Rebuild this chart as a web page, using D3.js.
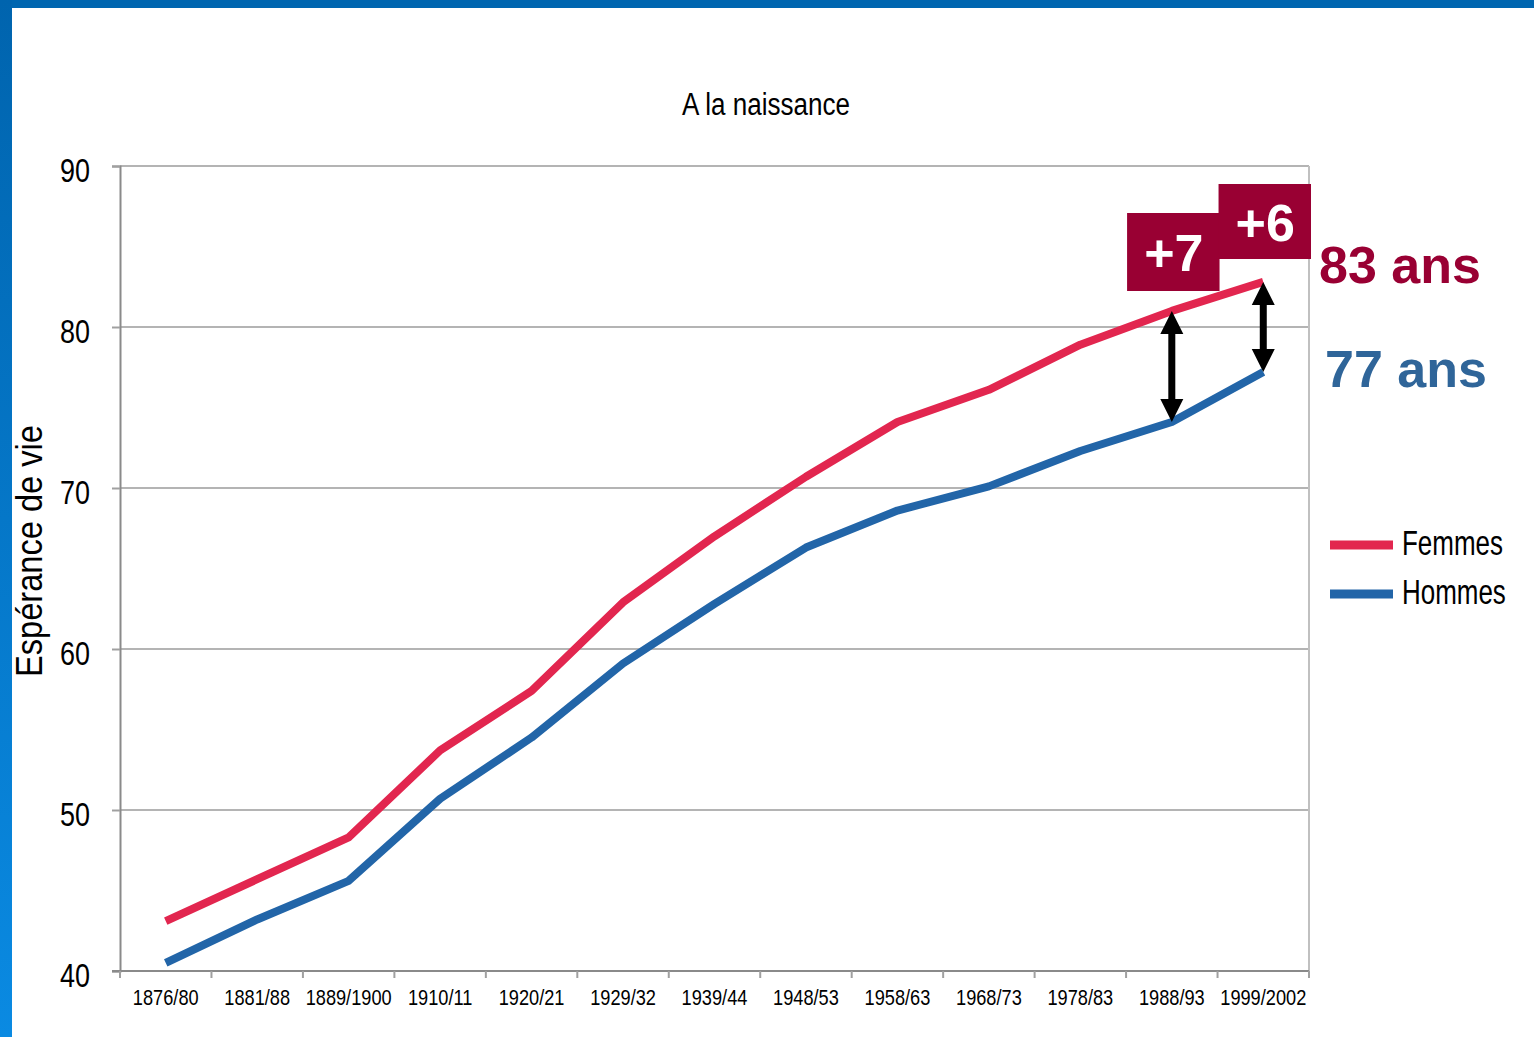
<!DOCTYPE html>
<html>
<head>
<meta charset="utf-8">
<script src="https://cdn.jsdelivr.net/npm/d3@7"></script>
<style>
  html, body { margin: 0; padding: 0; background: #fff; }
  svg { display: block; }
</style>
</head>
<body>
<script>
// ---- data ----
const categories = ["1876/80","1881/88","1889/1900","1910/11","1920/21","1929/32","1939/44","1948/53","1958/63","1968/73","1978/83","1988/93","1999/2002"];
const femmes = [43.1, 45.7, 48.3, 53.7, 57.4, 62.9, 67.0, 70.7, 74.1, 76.1, 78.9, 81.0, 82.8];
const hommes = [40.5, 43.2, 45.6, 50.7, 54.5, 59.1, 62.8, 66.3, 68.6, 70.1, 72.3, 74.1, 77.2];
const yTicks = [40, 50, 60, 70, 80, 90];
const seriesNames = ["Femmes", "Hommes"];
const gapCategories = ["1988/93", "1999/2002"];
const gapLabels = ["+7", "+6"];
const endLabels = ["83 ans", "77 ans"];

const W = 1534, H = 1037;
const colF = "#e2264f", colH = "#2265a8";
const narrow = "'Liberation Sans',Arial,sans-serif";

const svg = d3.select("body").append("svg").attr("width", W).attr("height", H);

function measure(str, size) {
  const t = svg.append("text").attr("font-family", narrow).attr("font-size", size).text(str);
  const w = t.node().getComputedTextLength();
  t.remove();
  return w;
}
function condense(sel, ratio) {
  sel.each(function() {
    const w = this.getComputedTextLength();
    d3.select(this).attr("textLength", w * ratio).attr("lengthAdjust", "spacingAndGlyphs");
  });
}

// frame
const defs = svg.append("defs");
const lg = defs.append("linearGradient").attr("id","lb").attr("x1",0).attr("y1",0).attr("x2",0).attr("y2",1);
lg.append("stop").attr("offset","0%").attr("stop-color","#0064ae");
lg.append("stop").attr("offset","100%").attr("stop-color","#0a8ae2");
svg.append("rect").attr("x",0).attr("y",0).attr("width",W).attr("height",8).attr("fill","#0066b0");
svg.append("rect").attr("x",0).attr("y",0).attr("width",12).attr("height",H).attr("fill","url(#lb)");

// scales
const x = d3.scaleBand().domain(categories).range([120, 1309]).padding(0);
const cx = c => x(c) + x.bandwidth() / 2;
const y = d3.scaleLinear().domain([40, 90]).range([971, 166]);

// gridlines
svg.append("g").selectAll("line").data(yTicks.filter(t => t > 40)).join("line")
  .attr("x1", 120).attr("x2", 1309)
  .attr("y1", d => y(d)).attr("y2", d => y(d))
  .attr("stroke", "#b4b4b4").attr("stroke-width", 2);
// right border
svg.append("line").attr("x1",1309).attr("x2",1309).attr("y1",y(90)).attr("y2",y(40)+6)
  .attr("stroke","#c0c0c0").attr("stroke-width",2);

// y axis
const yAxis = svg.append("g").attr("transform","translate(120,0)")
  .call(d3.axisLeft(y).tickValues(yTicks).tickSize(8).tickPadding(22).tickFormat(d3.format("d")));
yAxis.select(".domain").attr("stroke","#8a8a8a").attr("stroke-width",2);
yAxis.selectAll(".tick line").attr("stroke","#a0a0a0").attr("stroke-width",2);
yAxis.selectAll(".tick text").attr("font-family",narrow).attr("font-size",34).attr("fill","#000").attr("dy","0.45em");
condense(yAxis.selectAll(".tick text"), 30 / measure("90", 34));

// x axis (labels)
const xAxis = svg.append("g").attr("transform","translate(0,971)")
  .call(d3.axisBottom(x).tickSize(0).tickPadding(18));
xAxis.select(".domain").remove();
xAxis.selectAll(".tick text").attr("font-family",narrow).attr("font-size",22).attr("fill","#000").attr("dy","0.71em");
condense(xAxis.selectAll(".tick text"), 86 / measure("1999/2002", 22));
// baseline
svg.append("line").attr("x1",112).attr("x2",1309).attr("y1",971).attr("y2",971)
  .attr("stroke","#8a8a8a").attr("stroke-width",2);
// boundary ticks
const bounds = categories.map(c => x(c)).concat([x(categories[categories.length-1]) + x.bandwidth()]);
svg.append("g").selectAll("line").data(bounds).join("line")
  .attr("x1", d => d).attr("x2", d => d).attr("y1", 971).attr("y2", 978)
  .attr("stroke","#a0a0a0").attr("stroke-width",2);

// title
const title = svg.append("text").attr("x", 766).attr("y", 115).attr("text-anchor","middle")
  .attr("font-family",narrow).attr("font-size",31).attr("fill","#000").text("A la naissance");
condense(title, 168 / measure("A la naissance", 31));
// y label
const ylab = svg.append("text").attr("transform","translate(42,551) rotate(-90)").attr("text-anchor","middle")
  .attr("font-family",narrow).attr("font-size",37).attr("fill","#000").text("Espérance de vie");
condense(ylab, 252 / measure("Espérance de vie", 37));

// lines
const line = d3.line().x((d,i) => cx(categories[i])).y(d => y(d));
svg.append("path").datum(hommes).attr("d", line).attr("fill","none")
  .attr("stroke", colH).attr("stroke-width", 8).attr("stroke-linejoin","round");
svg.append("path").datum(femmes).attr("d", line).attr("fill","none")
  .attr("stroke", colF).attr("stroke-width", 8).attr("stroke-linejoin","round");

// legend
const legend = svg.append("g");
const legRatio = 101 / measure("Femmes", 35);
[colF, colH].forEach((c, i) => {
  const ly = 545 + i * 49;
  legend.append("line").attr("x1",1330).attr("x2",1393).attr("y1",ly).attr("y2",ly)
    .attr("stroke",c).attr("stroke-width",9);
  legend.append("g").attr("transform", `translate(1402,${ly + 10}) scale(${legRatio},1)`)
    .append("text").attr("x",0).attr("y",0).attr("font-family",narrow)
    .attr("font-size",35).attr("fill","#000").text(seriesNames[i]);
});

// gap arrows
const headL = 23, headW = 23, shaftW = 7;
gapCategories.forEach(c => {
  const i = categories.indexOf(c);
  const xx = cx(c), y1 = y(femmes[i]), y2 = y(hommes[i]);
  const g = svg.append("g");
  g.append("line").attr("x1",xx).attr("x2",xx).attr("y1",y1 + headL - 2).attr("y2",y2 - headL + 2)
    .attr("stroke","#000").attr("stroke-width",shaftW);
  g.append("path").attr("d",`M${xx},${y1} L${xx-headW/2},${y1+headL} L${xx+headW/2},${y1+headL} Z`).attr("fill","#000");
  g.append("path").attr("d",`M${xx},${y2} L${xx-headW/2},${y2-headL} L${xx+headW/2},${y2-headL} Z`).attr("fill","#000");
});

// gap boxes
const boxes = [
  {cat: gapCategories[0], label: gapLabels[0], top: 213, h: 78},
  {cat: gapCategories[1], label: gapLabels[1], top: 184, h: 75}
];
boxes.forEach(b => {
  const xx = cx(b.cat);
  svg.append("rect").attr("x", x(b.cat) + 1).attr("y", b.top).attr("width", x.bandwidth() + 1).attr("height", b.h)
    .attr("fill", "#990033");
  svg.append("text").attr("x", xx + 2).attr("y", b.top + b.h/2 + 19).attr("text-anchor","middle")
    .attr("font-family","'Liberation Sans',Arial,sans-serif").attr("font-weight","bold")
    .attr("font-size",52).attr("fill","#fff").text(b.label);
});

// end labels
svg.append("text").attr("x",1319).attr("y",283).attr("font-family","'Liberation Sans',Arial,sans-serif")
  .attr("font-weight","bold").attr("font-size",52).attr("fill","#990033").text(endLabels[0]);
svg.append("text").attr("x",1325).attr("y",387).attr("font-family","'Liberation Sans',Arial,sans-serif")
  .attr("font-weight","bold").attr("font-size",52).attr("fill","#2f6599").text(endLabels[1]);
</script>
</body>
</html>
